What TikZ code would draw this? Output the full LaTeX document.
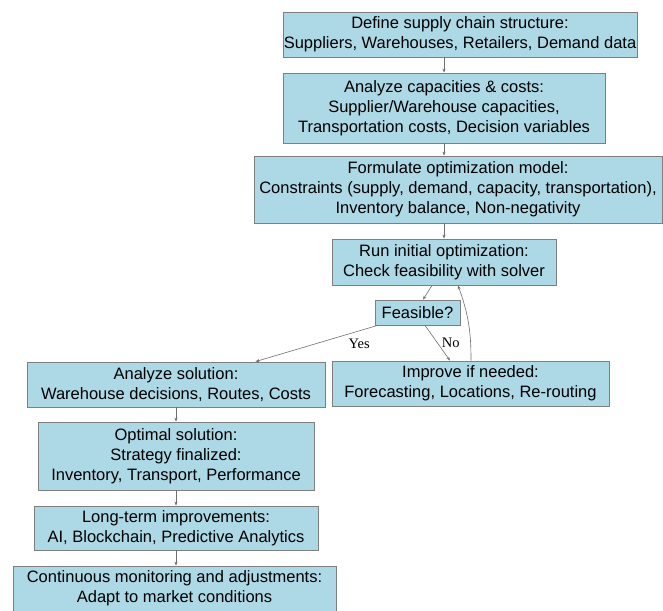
\documentclass[tikz,border=0pt]{standalone}
\usepackage{fontspec}
\setmainfont{Liberation Sans}
\newfontfamily\labelfont{Liberation Serif}
\usetikzlibrary{arrows.meta}
\definecolor{boxfill}{HTML}{ADD8E6}
\definecolor{boxline}{HTML}{7F7F7F}
\definecolor{edgeline}{HTML}{6E6E6E}
\tikzset{
  stepbox/.style={draw=boxline, fill=boxfill, line width=0.8pt, align=center,
    inner sep=0pt, font=\fontsize{16.5}{20}\selectfont},
  arr/.style={draw=edgeline, line width=0.6pt, -{Stealth[length=4pt,width=3pt]}},
  edgelabel/.style={font=\labelfont\fontsize{14.5}{16}\selectfont, inner sep=1pt}
}
\begin{document}
\begin{tikzpicture}[x=1pt,y=-1pt]
\useasboundingbox (0,0) rectangle (663,610);
\node[stepbox, minimum width=354pt, minimum height=45pt] (def) at (460,34.5)
  {Define supply chain structure:\\Suppliers, Warehouses, Retailers, Demand data};
\node[stepbox, minimum width=322pt, minimum height=70pt] (cap) at (444,108)
  {Analyze capacities \& costs:\\Supplier/Warehouse capacities,\\Transportation costs, Decision variables};
\node[stepbox, minimum width=408pt, minimum height=67pt] (form) at (458,189.5)
  {Formulate optimization model:\\Constraints (supply, demand, capacity, transportation),\\Inventory balance, Non-negativity};
\node[stepbox, minimum width=224pt, minimum height=46pt] (run) at (444,262)
  {Run initial optimization:\\Check feasibility with solver};
\node[stepbox, minimum width=85pt, minimum height=25pt] (feas) at (417.5,312.5)
  {Feasible?};
\node[stepbox, minimum width=277pt, minimum height=45pt] (impr) at (470.5,383.5)
  {Improve if needed:\\Forecasting, Locations, Re-routing};
\node[stepbox, minimum width=298pt, minimum height=45pt] (anls) at (176,384.5)
  {Analyze solution:\\Warehouse decisions, Routes, Costs};
\node[stepbox, minimum width=276pt, minimum height=68pt] (opt) at (176,456)
  {Optimal solution:\\Strategy finalized:\\Inventory, Transport, Performance};
\node[stepbox, minimum width=284pt, minimum height=44pt] (long) at (176,528)
  {Long-term improvements:\\AI, Blockchain, Predictive Analytics};
\node[stepbox, minimum width=323pt, minimum height=45pt] (cont) at (174.5,588.5)
  {Continuous monitoring and adjustments:\\Adapt to market conditions};

\draw[arr] (def.south -| cap.north) -- (cap.north);
\draw[arr] (cap.south) -- (cap.south |- form.north);
\draw[arr] (form.south -| run.north) -- (run.north);
\draw[arr] ([xshift=-12pt]run.south) -- ([xshift=5.5pt]feas.north);
\draw[arr] ([xshift=3pt]feas.south west) -- node[edgelabel, pos=0.15, below=7pt] {Yes} ([xshift=-70pt]anls.north east);
\draw[arr] ([xshift=7.5pt]feas.south) -- node[edgelabel, pos=0.5, right=3pt] {No} ([xshift=-20.5pt]impr.north);
\draw[arr] ([xshift=0.5pt]impr.north) to[bend right=10] ([xshift=14pt]run.south);
\draw[arr] (anls.south) -- (opt.north);
\draw[arr] (opt.south) -- (long.north);
\draw[arr] (long.south) -- (long.south |- cont.north);
\end{tikzpicture}
\end{document}
